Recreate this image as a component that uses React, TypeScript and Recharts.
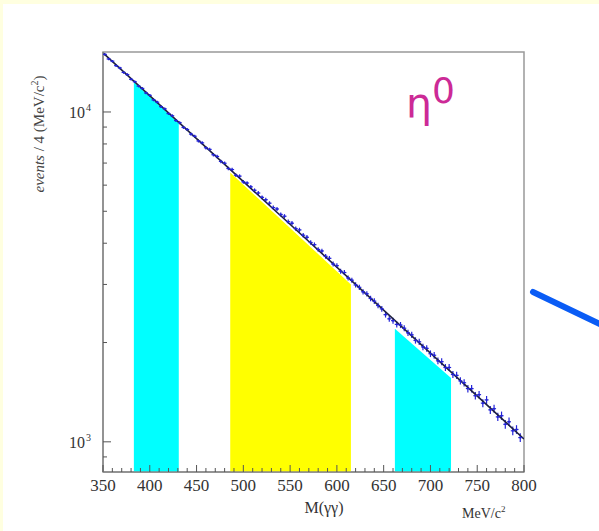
import { ComposedChart, Line, Area, Scatter, ErrorBar, XAxis, YAxis, ReferenceArea } from 'recharts';

// bin centre (MeV/c^2), events per 4 MeV, error
const binCenters = [
  352, 356, 360, 364, 368, 372, 376, 380, 384, 388, 392, 396, 400, 404, 408, 412, 416, 420, 424, 428,
  432, 436, 440, 444, 448, 452, 456, 460, 464, 468, 472, 476, 480, 484, 488, 492, 496, 500, 504, 508,
  512, 516, 520, 524, 528, 532, 536, 540, 544, 548, 552, 556, 560, 564, 568, 572, 576, 580, 584, 588,
  592, 596, 600, 604, 608, 612, 616, 620, 624, 628, 632, 636, 640, 644, 648, 652, 656, 660, 664, 668,
  672, 676, 680, 684, 688, 692, 696, 700, 704, 708, 712, 716, 720, 724, 728, 732, 736, 740, 744, 748,
  752, 756, 760, 764, 768, 772, 776, 780, 784, 788, 792, 796,
];
const counts = [
  14950, 14480, 14260, 13820, 13600, 13180, 12980, 12560, 12350, 11980, 11790, 11420, 11230, 10880, 10710, 10380, 10220, 9890, 9740, 9420,
  9280, 8980, 8850, 8570, 8440, 8170, 8060, 7790, 7700, 7420, 7330, 7080, 6990, 6740, 6690, 6430, 6390, 6140, 6090, 5930,
  5790, 5680, 5510, 5420, 5290, 5130, 5080, 4890, 4830, 4650, 4600, 4430, 4390, 4230, 4170, 4020, 3960, 3830, 3790, 3650,
  3600, 3460, 3420, 3290, 3260, 3140, 3090, 2990, 2940, 2850, 2810, 2720, 2670, 2590, 2530, 2430, 2360, 2330, 2270, 2260,
  2210, 2140, 2110, 2030, 2010, 1940, 1920, 1850, 1830, 1760, 1750, 1680, 1680, 1600, 1590, 1530, 1510, 1450, 1450, 1380,
  1390, 1310, 1340, 1250, 1260, 1190, 1200, 1130, 1150, 1080, 1090, 1030,
];
const errors = [
  122, 120, 119, 118, 117, 115, 114, 112, 111, 109, 109, 107, 106, 104, 103, 102, 101, 99, 99, 97,
  96, 95, 94, 93, 92, 90, 90, 88, 88, 86, 86, 84, 84, 82, 82, 80, 80, 78, 78, 77,
  76, 75, 74, 74, 73, 72, 71, 70, 70, 68, 68, 67, 66, 65, 65, 63, 63, 62, 62, 60,
  60, 59, 58, 57, 57, 56, 56, 55, 54, 53, 53, 52, 52, 51, 50, 49, 49, 48, 48, 48,
  47, 46, 46, 45, 45, 44, 44, 43, 43, 42, 42, 41, 41, 40, 40, 39, 39, 38, 38, 37,
  37, 36, 37, 35, 35, 34, 35, 34, 34, 33, 33, 32,
];

// fitted background curve
const fitMass = [350, 575, 800];
const fitValue = [15100, 3930, 1020];

// side bands (cyan) and signal window (yellow): [mass, top of band]
const yMin = 810;
const yMax = 15200;
const sideBandLow = [[383, 12300], [431, 9250]];
const signalWindow = [[486, 6550], [615, 3000]];
const sideBandHigh = [[662, 2200], [722, 1560]];

const xMajor = [350, 400, 450, 500, 550, 600, 650, 700, 750, 800];
const xTicks = [
  350, 360, 370, 380, 390, 400, 410, 420, 430, 440, 450, 460, 470, 480, 490, 500, 510, 520, 530, 540,
  550, 560, 570, 580, 590, 600, 610, 620, 630, 640, 650, 660, 670, 680, 690, 700, 710, 720, 730, 740,
  750, 760, 770, 780, 790, 800,
];
const yMajor = [1000, 10000];
const yTicks = [900, 1000, 2000, 3000, 4000, 5000, 6000, 7000, 8000, 9000, 10000];

const points = binCenters.map((m, i) => ({ m, v: counts[i], e: errors[i] }));
const fit = fitMass.map((m, i) => ({ m, fit: fitValue[i] }));
const band = (rows: number[][]) => rows.map(([m, top]) => ({ m, band: [yMin, top] }));

const serif = '"Liberation Serif", "DejaVu Serif", serif';

const XTick = (props: any) => {
  const { x, y, payload } = props;
  const major = xMajor.includes(payload.value);
  return (
    <g>
      <line x1={x} x2={x} y1={y} y2={y - (major ? 7 : 4)} stroke="#555" strokeWidth={1} />
      {major && (
        <text x={x} y={y + 19} textAnchor="middle" fontFamily={serif} fontSize={17} fill="#333">
          {payload.value}
        </text>
      )}
    </g>
  );
};

const YTick = (props: any) => {
  const { x, y, payload } = props;
  const major = yMajor.includes(payload.value);
  const exp = Math.round(Math.log10(payload.value));
  return (
    <g>
      <line x1={x} x2={x + (major ? 8 : 4)} y1={y} y2={y} stroke="#555" strokeWidth={1} />
      {major && (
        <text x={x - 18} y={y + 6} textAnchor="end" fontFamily={serif} fontSize={16} fill="#333">
          10
        </text>
      )}
      {major && (
        <text x={x - 17} y={y - 1} textAnchor="start" fontFamily={serif} fontSize={10} fill="#333">
          {exp}
        </text>
      )}
    </g>
  );
};

const Marker = (props: any) => {
  const { cx, cy } = props;
  return (
    <g>
      <line x1={cx - 2} x2={cx + 2} y1={cy} y2={cy} stroke="#2424d8" strokeWidth={1.2} />
      <circle cx={cx} cy={cy} r={1} fill="#2424d8" />
    </g>
  );
};

export default function App() {
  return (
    <div style={{ position: 'absolute', left: 0, top: 0, width: 599, height: 531, background: '#ffffe0' }}>
      <div style={{ position: 'absolute', left: 3, top: 4, right: 0, bottom: 0, background: '#ffffff' }} />
      <div style={{ position: 'absolute', left: 0, top: 0 }}>
        <ComposedChart width={599} height={531} margin={{ top: 52, right: 75, left: 43, bottom: 29 }}>
          <ReferenceArea x1={350} x2={800} y1={yMin} y2={yMax} fill="none" stroke="#999" strokeWidth={1.5} ifOverflow="visible" />
          <Area data={band(sideBandLow)} dataKey="band" type="linear" fill="#00ffff" fillOpacity={1} stroke="none" isAnimationActive={false} />
          <Area data={band(signalWindow)} dataKey="band" type="linear" fill="#ffff00" fillOpacity={1} stroke="none" isAnimationActive={false} />
          <Area data={band(sideBandHigh)} dataKey="band" type="linear" fill="#00ffff" fillOpacity={1} stroke="none" isAnimationActive={false} />
          <XAxis
            dataKey="m"
            type="number"
            domain={[350, 800]}
            ticks={xTicks}
            interval={0}
            allowDataOverflow
            height={30}
            tickSize={0}
            tickMargin={0}
            tickLine={false}
            tick={<XTick />}
            axisLine={{ stroke: '#888', strokeWidth: 1.5 }}
          />
          <YAxis
            scale="log"
            type="number"
            domain={[yMin, yMax]}
            ticks={yTicks}
            interval={0}
            allowDataOverflow
            width={60}
            tickSize={0}
            tickMargin={0}
            tickLine={false}
            tick={<YTick />}
            axisLine={{ stroke: '#888', strokeWidth: 1.5 }}
          />
          <Scatter data={points} dataKey="v" shape={<Marker />} isAnimationActive={false}>
            <ErrorBar dataKey="e" direction="y" width={0} stroke="#2424d8" strokeWidth={1.2} />
          </Scatter>
          <Line data={fit} dataKey="fit" type="linear" stroke="#1e2040" strokeWidth={1.6} dot={false} isAnimationActive={false} />
        </ComposedChart>
      </div>
      <svg width={599} height={531} style={{ position: 'absolute', left: 0, top: 0, pointerEvents: 'none' }}>
        <text
          transform="translate(44 134) rotate(-90)"
          textAnchor="middle"
          fontFamily={serif}
          fontSize={15}
          fill="#444"
        >
          <tspan fontStyle="italic">events</tspan> / 4 (MeV/c<tspan dy={-6} fontSize={10}>2</tspan>
          <tspan dy={6}>)</tspan>
        </text>
        <text x={324} y={513} textAnchor="middle" fontFamily={serif} fontSize={16} fill="#333">
          M(γγ)
        </text>
        <text x={462} y={518} textAnchor="start" fontFamily={serif} fontSize={14} fill="#333">
          MeV/c<tspan dy={-6} fontSize={9}>2</tspan>
        </text>
        <text x={406} y={117} fontFamily='"DejaVu Sans", sans-serif' fontSize={41} fill="#cc2a96">
          η<tspan dy={-14} fontSize={36}>0</tspan>
        </text>
        <line x1={533} y1={292} x2={604} y2={326} stroke="#0a5cf5" strokeWidth={6} strokeLinecap="round" />
      </svg>
    </div>
  );
}
